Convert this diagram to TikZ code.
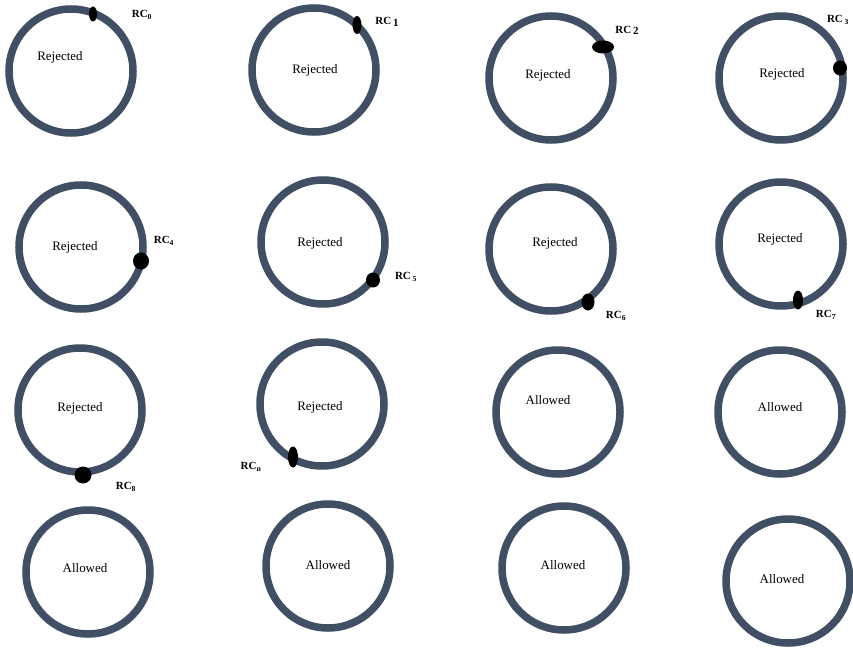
\documentclass[tikz,border=0pt]{standalone}
\usepackage{fontspec}
\setmainfont{Liberation Serif}
\usetikzlibrary{shapes.geometric}
\definecolor{ringcol}{RGB}{64,79,99}
\begin{document}
\begin{tikzpicture}[x=1bp,y=-1bp,
  ring/.style={circle, draw=ringcol, line width=7.5bp, minimum size=124bp, inner sep=0pt},
  txt/.style={font=\fontsize{13}{15}\selectfont, inner sep=0pt},
  rclab/.style={font=\fontsize{11}{13}\selectfont\bfseries, inner sep=0pt},
  dot/.style={ellipse, fill=black, inner sep=0pt}]
\useasboundingbox (0,0) rectangle (853,649);
\fill[white] (0,0) rectangle (853,649);
% Row 1
\node[ring] (c1) at (71,71) {};
\node[txt] (t1) at (60,57) {Rejected};
\node[dot, minimum width=8bp, minimum height=15bp] (d1) at (93,14) {};
\node[rclab] (l1) at (142,15) {RC\textsubscript{0}};
\node[ring] (c2) at (314,70) {};
\node[txt] (t2) at (315,70) {Rejected};
\node[dot, minimum width=9bp, minimum height=18bp] (d2) at (357,25) {};
\node[rclab] (l2) at (387,22) {RC\,\raisebox{-1.5bp}{1}};
\node[ring] (c3) at (551,78) {};
\node[txt] (t3) at (548,75) {Rejected};
\node[dot, minimum width=22bp, minimum height=13bp] (d3) at (603,47) {};
\node[rclab] (l3) at (627,30) {RC\,\raisebox{-1bp}{2}};
\node[ring] (c4) at (781,78) {};
\node[txt] (t4) at (782,74) {Rejected};
\node[dot, minimum width=14bp, minimum height=15bp] (d4) at (840,68) {};
\node[rclab] (l4) at (838,20) {RC\,\textsubscript{3}};
% Row 2
\node[ring] (c5) at (81,247) {};
\node[txt] (t5) at (75,247) {Rejected};
\node[dot, minimum width=16bp, minimum height=17bp] (d5) at (141,261) {};
\node[rclab] (l5) at (164,241) {RC\textsubscript{4}};
\node[ring] (c6) at (323,242) {};
\node[txt] (t6) at (320,243) {Rejected};
\node[dot, minimum width=14bp, minimum height=15bp] (d6) at (373,280) {};
\node[rclab] (l6) at (406,277) {RC\,\textsubscript{5}};
\node[ring] (c7) at (551,249) {};
\node[txt] (t7) at (555,243) {Rejected};
\node[dot, minimum width=13bp, minimum height=17bp] (d7) at (588,302) {};
\node[rclab] (l7) at (616,316) {RC\textsubscript{6}};
\node[ring] (c8) at (781,244) {};
\node[txt] (t8) at (780,239) {Rejected};
\node[dot, minimum width=10bp, minimum height=19bp] (d8) at (798,300) {};
\node[rclab] (l8) at (826,315) {RC\textsubscript{7}};
% Row 3
\node[ring] (c9) at (80,410) {};
\node[txt] (t9) at (80,408) {Rejected};
\node[dot, minimum width=17bp, minimum height=17bp] (d9) at (83,475) {};
\node[rclab] (l9) at (126,487) {RC\textsubscript{8}};
\node[ring] (c10) at (322,404) {};
\node[txt] (t10) at (320,407) {Rejected};
\node[dot, minimum width=10bp, minimum height=21bp] (d10) at (293,457) {};
\node[rclab] (l10) at (251,467) {RC\textsubscript{n}};
\node[ring] (c11) at (558,412) {};
\node[txt] (t11) at (548,400) {Allowed};
\node[ring] (c12) at (780,412) {};
\node[txt] (t12) at (780,407) {Allowed};
% Row 4
\node[ring] (c13) at (88,572) {};
\node[txt] (t13) at (85,568) {Allowed};
\node[ring] (c14) at (328,566) {};
\node[txt] (t14) at (328,565) {Allowed};
\node[ring] (c15) at (564,568) {};
\node[txt] (t15) at (563,565) {Allowed};
\node[ring] (c16) at (788,581) {};
\node[txt] (t16) at (782,579) {Allowed};
\end{tikzpicture}
\end{document}
